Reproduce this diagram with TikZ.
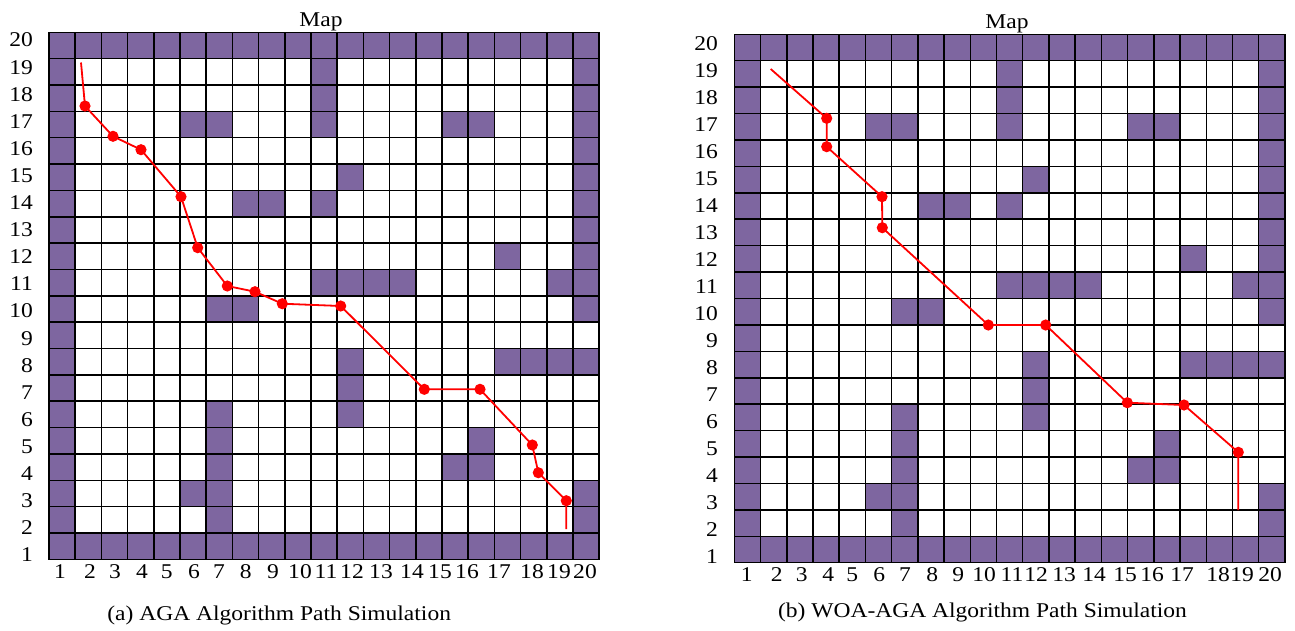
\documentclass[tikz,border=0pt]{standalone}
\usepackage{fontspec}
\setmainfont{Liberation Serif}[FakeStretch=1.12]
\definecolor{obst}{RGB}{126,102,160}
\def\obstlist{11/19,11/18,11/17,6/17,7/17,16/17,17/17,12/15,8/14,9/14,11/14,18/12,11/11,12/11,13/11,14/11,20/11,7/10,8/10,12/8,18/8,19/8,20/8,12/7,12/6,7/6,7/5,17/5,7/4,16/4,17/4,6/3,7/3,7/2,21/19,21/18,21/17,21/16,21/15,21/14,21/13,21/12,21/11,21/10,21/8,21/3,21/2}
\newcommand\drawmymap{%
  \foreach \c in {1,...,21}{\fill[obst] (\c-1,0) rectangle (\c,1); \fill[obst] (\c-1,19) rectangle (\c,20);}
  \foreach \r in {2,...,19}{\fill[obst] (0,20-\r) rectangle (1,21-\r);}
  \foreach \c/\r in \obstlist{\fill[obst] (\c-1,20-\r) rectangle (\c,21-\r);}
  \foreach \i in {0,...,21}{\draw[gridline] (\i,0) -- (\i,20);}
  \foreach \j in {0,...,20}{\draw[gridline] (0,\j) -- (21,\j);}
  \draw[gridline] (0,0) rectangle (21,20);
}
\begin{document}
\begin{tikzpicture}[x=1pt,y=-1pt,
  gridline/.style={line width=1.5pt,black,line cap=rect},
  pathline/.style={red,line width=1.8pt},
  lab/.style={font=\fontsize{21}{24}\selectfont,inner sep=0pt}]
\useasboundingbox (0,0) rectangle (1295,630);
\fill[white] (0,0) rectangle (1295,630);

% ---------- left map ----------
\begin{scope}[shift={(49,32.3)},x=26.2pt,y=-26.35pt]
  \drawmymap
\end{scope}
\node[lab,anchor=base] (mapa) at (321,26.7) {Map};
\foreach \k/\x in {1/60,2/90,3/115,4/142,5/166.7,6/194,7/219,8/245.7,9/273,10/300,11/326,12/352,13/381,14/412,15/440,16/467,17/499,18/532,19/559,20/585}
  \node[lab] (lxa\k) at (\x,572) {\k};
\foreach \k in {1,...,20}
  \node[lab,anchor=east] (lya\k) at (33,{555-(\k-1)*27.1}) {\k};
\node[lab,anchor=base] (capa) at (279.2,620) {(a) AGA Algorithm Path Simulation};

\coordinate (a0) at (81,62.5);
\coordinate (a1) at (85,106);
\coordinate (a2) at (113,136.3);
\coordinate (a3) at (141,149.7);
\coordinate (a4) at (181,196.7);
\coordinate (a5) at (197.7,247.7);
\coordinate (a6) at (227.3,286);
\coordinate (a7) at (255,291.7);
\coordinate (a8) at (282.3,303.7);
\coordinate (a9) at (340.7,306);
\coordinate (a10) at (424.3,389.3);
\coordinate (a11) at (480,389.3);
\coordinate (a12) at (532.3,445);
\coordinate (a13) at (538.3,472.7);
\coordinate (a14) at (566.3,500.7);
\coordinate (a15) at (566.3,529);
\draw[pathline] (a0) -- (a1) -- (a2) -- (a3) -- (a4) -- (a5) -- (a6) -- (a7) -- (a8) -- (a9) -- (a10) -- (a11) -- (a12) -- (a13) -- (a14) -- (a15);
\foreach \p in {a1,a2,a3,a4,a5,a6,a7,a8,a9,a10,a11,a12,a13,a14}
  \fill[red] (\p) circle (5.6pt);

% ---------- right map ----------
\begin{scope}[shift={(734.3,34.3)},x=26.22pt,y=-26.42pt]
  \drawmymap
\end{scope}
\node[lab,anchor=base] (mapb) at (1007,28.3) {Map};
\foreach \k/\x in {1/746.7,2/776.7,3/801.7,4/828.3,5/852.3,6/879.3,7/905,8/932.3,9/958.3,10/984,11/1012,12/1036,13/1064,14/1094,15/1125,16/1152,17/1182,18/1218,19/1242,20/1270}
  \node[lab] (lxb\k) at (\x,575) {\k};
\foreach \k in {1,...,20}
  \node[lab,anchor=east] (lyb\k) at (718,{556.7-(\k-1)*27.02}) {\k};
\node[lab,anchor=base] (capb) at (982.5,617) {(b) WOA-AGA Algorithm Path Simulation};

\coordinate (b0) at (770.7,69);
\coordinate (b1) at (826.7,118.3);
\coordinate (b2) at (826.7,146.7);
\coordinate (b3) at (882,196.7);
\coordinate (b4) at (882.3,227.7);
\coordinate (b5) at (988.3,325);
\coordinate (b6) at (1045.7,325);
\coordinate (b7) at (1127.3,402.7);
\coordinate (b8) at (1184,405);
\coordinate (b9) at (1238.3,452.3);
\coordinate (b10) at (1238.3,510);
\draw[pathline] (b0) -- (b1) -- (b2) -- (b3) -- (b4) -- (b5) -- (b6) -- (b7) -- (b8) -- (b9) -- (b10);
\foreach \p in {b1,b2,b3,b4,b5,b6,b7,b8,b9}
  \fill[red] (\p) circle (5.6pt);
\end{tikzpicture}
\end{document}
